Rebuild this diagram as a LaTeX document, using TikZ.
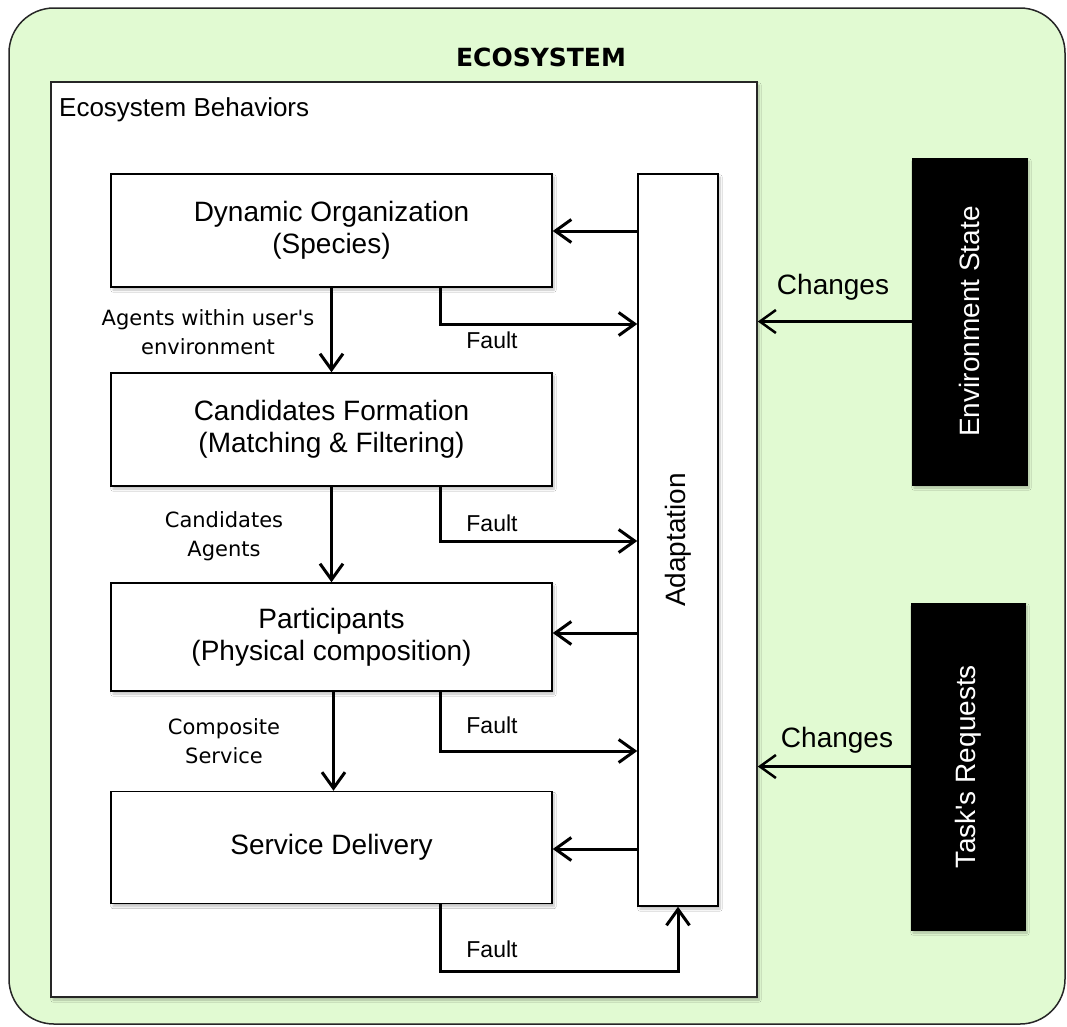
\documentclass[tikz,border=0pt]{standalone}
\usepackage{fontspec}
\setmainfont{Liberation Sans}
\newfontfamily\lucida{DejaVu Sans}
\usetikzlibrary{arrows.meta,shadows.blur}
\definecolor{ecogreen}{RGB}{225,250,210}
\tikzset{
  shadowed/.style={blur shadow={shadow xshift=2pt,shadow yshift=-3pt,shadow blur steps=6,shadow opacity=25}},
  stagebox/.style={draw=black,line width=1.5pt,fill=white,minimum width=441pt,inner sep=0pt,align=center,font=\fontsize{28}{32}\selectfont,shadowed},
  blackbox/.style={draw=black,fill=black,minimum width=115pt,minimum height=327pt,inner sep=0pt,shadowed},
  conn/.style={line width=3pt,-{Straight Barb[length=16pt,width=23pt]}},
  envconn/.style={line width=2.5pt,-{Straight Barb[length=16pt,width=23pt]}},
  lab/.style={font=\lucida\fontsize{21}{29}\selectfont,align=center,inner sep=0pt},
  faultlab/.style={font=\fontsize{23}{27}\selectfont,inner sep=0pt},
  chlab/.style={font=\fontsize{28}{32}\selectfont,inner sep=0pt}
}
\begin{document}
\begin{tikzpicture}[x=1pt,y=-1pt]
\useasboundingbox (0,0) rectangle (1067,1026);
% outer ecosystem
\node[draw=black!85,line width=1.5pt,fill=ecogreen,rounded corners=45pt,minimum width=1056pt,minimum height=1016pt,inner sep=0pt] (eco) at (537,516) {};
\node[font=\lucida\bfseries\fontsize{25}{30}\selectfont,inner sep=0pt] (ecotitle) at (541,57) {ECOSYSTEM};
% behaviors box
\node[draw=black!85,line width=1.5pt,fill=white,minimum width=706pt,minimum height=915pt,inner sep=0pt,shadowed] (behav) at (404,539.5) {};
\node[anchor=west,font=\fontsize{26}{30}\selectfont,inner sep=0pt] (behavtitle) at (59,110) {Ecosystem Behaviors};
% stages
\node[stagebox,minimum height=113pt] (dyn) at (331.5,230.5) {Dynamic Organization\\(Species)};
\node[stagebox,minimum height=113pt] (cand) at (331.5,429.5) {Candidates Formation\\(Matching \& Filtering)};
\node[stagebox,minimum height=108pt] (part) at (331.5,637) {Participants\\(Physical composition)};
\node[stagebox,minimum height=112pt] (serv) at (331.5,847.5) {Service Delivery};
% adaptation
\node[draw=black,line width=1.5pt,fill=white,minimum width=80pt,minimum height=732pt,inner sep=0pt,shadowed,
  label={[rotate=90,font=\fontsize{28}{32}\selectfont]center:Adaptation}] (adapt) at (678,540) {};
% external
\node[blackbox,label={[rotate=90,text=white,font=\fontsize{28}{32}\selectfont]center:Environment State}] (env) at (969.5,321.5) {};
\node[blackbox,minimum width=114pt,label={[rotate=90,text=white,font=\fontsize{28}{32}\selectfont]center:Task\textquotesingle s Requests}] (task) at (968,766.5) {};
% downward flow
\draw[conn] (dyn.south) -- (cand.north);
\draw[conn] (cand.south) -- (part.north);
\draw[conn] ([xshift=2pt]part.south) -- ([xshift=2pt]serv.north);
\node[lab] (l1) at (208,332) {Agents within user\textquotesingle s\\environment};
\node[lab] (l2) at (224,536) {Candidates\\Agents};
\node[lab] (l3) at (224,741) {Composite\\Service};
% faults
\draw[conn] ([xshift=330pt]dyn.south west) |- (adapt.west |- 0,324);
\draw[conn] ([xshift=330pt]cand.south west) |- (adapt.west |- 0,541);
\draw[conn] ([xshift=330pt]part.south west) |- (adapt.west |- 0,751);
\draw[conn] ([xshift=330pt]serv.south west) -- ++(0,67) -| (adapt.south);
\node[faultlab] (f1) at (492,340) {Fault};
\node[faultlab] (f2) at (492,523) {Fault};
\node[faultlab] (f3) at (492,725) {Fault};
\node[faultlab] (f4) at (492,949) {Fault};
% adaptation back arrows
\draw[conn] (adapt.west |- 0,231) -- (dyn.east |- 0,231);
\draw[conn] (adapt.west |- 0,633) -- (part.east |- 0,633);
\draw[conn] (adapt.west |- 0,849) -- (serv.east |- 0,849);
% changes
\draw[envconn] (env.west) -- (env.west -| behav.east);
\draw[envconn] (task.west) -- (task.west -| behav.east);
\node[chlab] (c1) at (833,287) {Changes};
\node[chlab] (c2) at (837,740) {Changes};
\end{tikzpicture}
\end{document}
